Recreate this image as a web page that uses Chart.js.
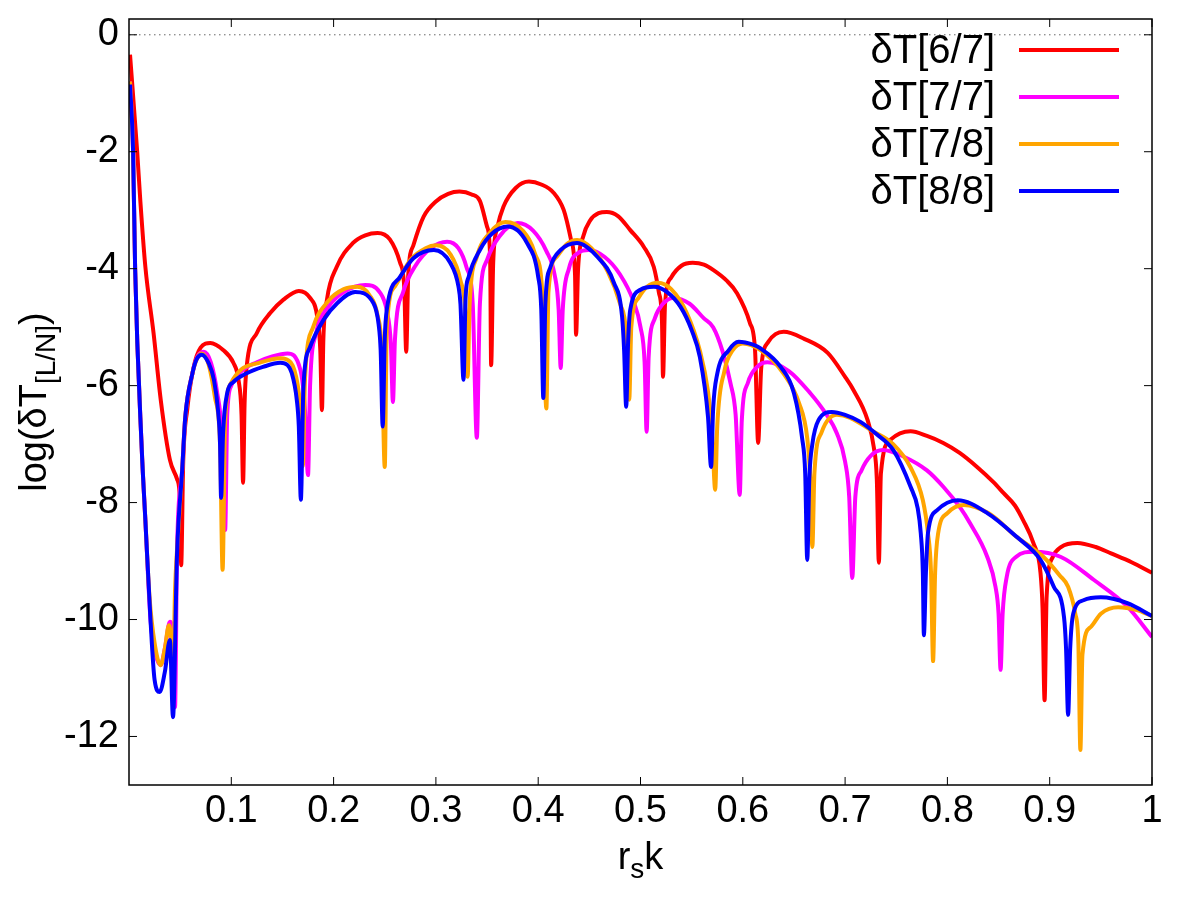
<!DOCTYPE html>
<html>
<head>
  <title>log(dT) vs rs k</title>
  <script src="https://cdn.jsdelivr.net/npm/chart.js"></script>
  <style>body{margin:0;background:#fff}</style>
</head>
<body>
  <canvas id="chart" width="1200" height="900"></canvas>
  <script>
    // axis ticks
    const xTicks = [0.1, 0.2, 0.3, 0.4, 0.5, 0.6, 0.7, 0.8, 0.9, 1];
    const yTicks = [0, -2, -4, -6, -8, -10, -12];

    const names = ['δT[6/7]', 'δT[7/7]', 'δT[7/8]', 'δT[8/8]'];
    const colors = ['#ff0000', '#ff00ff', '#ffa500', '#0000ff'];

    // δT[6/7]
    const k67 = [0.001,0.008,0.011,0.016,0.024,0.031,0.040,0.047,0.050,0.051,
                 0.053,0.057,0.063,0.070,0.0795,0.092,0.102,0.107,0.110,0.1115,
                 0.113,0.115,0.125,0.138,0.151,0.166,0.177,0.184,0.187,0.1886,
                 0.190,0.1935,0.203,0.219,0.231,0.243,0.255,0.265,0.269,0.271,
                 0.273,0.278,0.288,0.300,0.312,0.323,0.335,0.343,0.350,0.353,
                 0.354,0.356,0.360,0.366,0.378,0.391,0.403,0.415,0.425,0.432,
                 0.436,0.437,0.439,0.444,0.451,0.459,0.467,0.478,0.490,0.503,
                 0.513,0.518,0.521,0.522,0.524,0.530,0.540,0.551,0.562,0.571,
                 0.584,0.594,0.607,0.612,0.615,0.618,0.625,0.632,0.640,0.660,
                 0.683,0.700,0.708,0.722,0.728,0.731,0.733,0.735,0.744,0.764,
                 0.780,0.796,0.812,0.829,0.845,0.855,0.866,0.874,0.884,0.891,
                 0.893,0.895,0.897,0.903,0.911,0.927,0.945,0.960,0.980,1.0];
    const t67 = [-0.34,-2.0,-2.82,-3.97,-5.1,-6.24,-7.27,-7.6,-8.0,-9.07,
                 -7.3,-6.4,-5.7,-5.35,-5.27,-5.39,-5.61,-5.9,-6.5,-7.66,
                 -6.3,-5.68,-5.1,-4.76,-4.53,-4.38,-4.5,-4.82,-5.4,-6.42,
                 -5.2,-4.53,-3.97,-3.56,-3.43,-3.39,-3.5,-3.9,-4.3,-5.42,
                 -4.1,-3.6,-3.11,-2.85,-2.72,-2.68,-2.73,-2.84,-3.28,-3.8,
                 -5.65,-3.9,-3.3,-2.94,-2.62,-2.51,-2.56,-2.7,-3.0,-3.5,
                 -4.1,-5.13,-4.0,-3.45,-3.17,-3.05,-3.03,-3.1,-3.34,-3.62,
                 -3.97,-4.41,-4.9,-5.85,-4.6,-4.15,-3.95,-3.9,-3.93,-4.02,
                 -4.2,-4.41,-4.93,-5.4,-6.98,-5.7,-5.25,-5.12,-5.08,-5.2,
                 -5.44,-5.85,-6.07,-6.59,-7.05,-7.6,-9.03,-7.5,-6.93,-6.78,
                 -6.86,-6.98,-7.15,-7.39,-7.65,-7.84,-8.05,-8.3,-8.69,-9.2,
                 -9.8,-11.38,-9.6,-8.93,-8.76,-8.69,-8.76,-8.87,-9.02,-9.2];

    // δT[7/7]
    const k77 = [0.001,0.004,0.006,0.0125,0.016,0.021,0.026,0.031,0.035,0.040,
                 0.043,0.045,0.047,0.052,0.055,0.062,0.067,0.073,0.080,0.086,
                 0.091,0.094,0.096,0.100,0.110,0.125,0.140,0.155,0.1675,0.172,
                 0.175,0.177,0.183,0.195,0.210,0.231,0.245,0.252,0.256,0.258,
                 0.260,0.268,0.280,0.295,0.311,0.322,0.330,0.336,0.340,0.343,
                 0.350,0.362,0.380,0.395,0.408,0.416,0.420,0.422,0.424,0.430,
                 0.440,0.449,0.465,0.480,0.493,0.500,0.504,0.506,0.508,0.514,
                 0.522,0.532,0.548,0.562,0.571,0.580,0.588,0.593,0.597,0.599,
                 0.605,0.614,0.624,0.645,0.666,0.680,0.692,0.700,0.704,0.707,
                 0.710,0.716,0.725,0.737,0.758,0.780,0.796,0.813,0.822,0.839,
                 0.847,0.850,0.852,0.854,0.858,0.867,0.884,0.911,0.943,0.976,
                 1.0];
    const t77 = [-0.8,-2.0,-4.0,-7.1,-8.3,-10.0,-10.6,-10.78,-10.5,-10.04,
                 -10.3,-11.5,-8.8,-7.44,-6.54,-5.79,-5.5,-5.42,-5.6,-6.1,
                 -6.9,-8.47,-6.5,-6.0,-5.75,-5.6,-5.5,-5.45,-5.73,-6.41,
                 -7.53,-6.0,-5.1,-4.65,-4.4,-4.28,-4.4,-4.72,-5.3,-6.28,
                 -5.2,-4.4,-3.95,-3.65,-3.54,-3.65,-3.98,-4.6,-6.89,-4.6,
                 -3.85,-3.45,-3.22,-3.35,-3.7,-4.1,-4.7,-5.7,-4.7,-4.0,
                 -3.72,-3.68,-3.8,-4.1,-4.55,-5.0,-5.6,-6.79,-5.5,-4.85,
                 -4.6,-4.5,-4.6,-4.85,-5.0,-5.4,-5.96,-6.5,-7.87,-6.6,
                 -5.95,-5.68,-5.6,-5.75,-6.13,-6.45,-6.82,-7.3,-7.9,-9.29,
                 -7.9,-7.45,-7.2,-7.1,-7.22,-7.45,-7.73,-8.1,-8.35,-8.93,
                 -9.44,-9.9,-10.86,-9.9,-9.27,-8.93,-8.84,-8.93,-9.32,-9.78,
                 -10.3];

    // δT[7/8]
    const k78 = [0.001,0.004,0.006,0.0125,0.016,0.020,0.025,0.031,0.035,0.039,
                 0.041,0.043,0.045,0.047,0.052,0.055,0.062,0.067,0.071,0.078,
                 0.084,0.089,0.0915,0.094,0.100,0.110,0.125,0.148,0.158,0.165,
                 0.168,0.170,0.172,0.180,0.195,0.210,0.223,0.235,0.243,0.247,
                 0.250,0.252,0.260,0.275,0.290,0.300,0.314,0.324,0.329,0.331,
                 0.333,0.340,0.352,0.368,0.385,0.397,0.404,0.408,0.410,0.418,
                 0.428,0.438,0.452,0.468,0.480,0.486,0.489,0.491,0.498,0.507,
                 0.517,0.530,0.545,0.558,0.566,0.570,0.573,0.575,0.582,0.590,
                 0.600,0.617,0.640,0.655,0.663,0.666,0.668,0.670,0.677,0.692,
                 0.705,0.725,0.747,0.764,0.776,0.781,0.784,0.786,0.788,0.791,
                 0.800,0.816,0.840,0.868,0.894,0.910,0.918,0.925,0.928,0.930,
                 0.932,0.940,0.950,0.967,0.985,1.0];
    const t78 = [-0.8,-2.0,-4.0,-7.1,-8.3,-9.6,-10.4,-10.78,-10.5,-10.1,
                 -10.3,-11.0,-9.5,-8.8,-7.44,-6.54,-5.79,-5.52,-5.45,-5.65,
                 -6.2,-7.0,-9.15,-6.6,-5.95,-5.72,-5.62,-5.53,-5.6,-6.0,
                 -6.5,-7.38,-5.9,-5.0,-4.55,-4.35,-4.31,-4.45,-4.8,-5.4,
                 -7.39,-5.0,-4.3,-3.85,-3.65,-3.6,-3.75,-4.2,-4.8,-5.85,
                 -4.6,-3.8,-3.4,-3.2,-3.35,-3.75,-4.4,-6.39,-4.4,-3.8,
                 -3.58,-3.51,-3.65,-4.05,-4.6,-5.1,-6.24,-5.0,-4.5,-4.3,
                 -4.24,-4.35,-4.75,-5.4,-6.1,-6.8,-7.78,-6.7,-5.75,-5.4,
                 -5.28,-5.39,-5.8,-6.3,-6.9,-7.6,-8.76,-7.5,-6.8,-6.5,
                 -6.55,-6.76,-7.0,-7.4,-7.96,-8.52,-9.2,-10.71,-9.2,-8.52,
                 -8.18,-8.04,-8.18,-8.59,-8.93,-9.25,-9.44,-9.9,-10.4,-12.23,
                 -10.6,-10.13,-9.9,-9.79,-9.84,-9.94];

    // δT[8/8]
    const k88 = [0.001,0.004,0.006,0.0125,0.016,0.021,0.025,0.030,0.035,0.040,
                 0.043,0.047,0.052,0.055,0.062,0.066,0.071,0.078,0.083,0.087,
                 0.089,0.090,0.092,0.096,0.102,0.115,0.131,0.148,0.155,0.159,
                 0.164,0.166,0.168,0.1705,0.177,0.190,0.2035,0.221,0.239,0.244,
                 0.246,0.248,0.250,0.252,0.265,0.278,0.298,0.314,0.322,0.324,
                 0.327,0.329,0.332,0.343,0.355,0.370,0.389,0.400,0.403,0.405,
                 0.407,0.412,0.422,0.438,0.458,0.474,0.482,0.484,0.486,0.488,
                 0.490,0.500,0.513,0.526,0.539,0.550,0.558,0.566,0.569,0.571,
                 0.575,0.586,0.596,0.610,0.617,0.637,0.650,0.658,0.661,0.663,
                 0.665,0.668,0.674,0.687,0.700,0.715,0.730,0.747,0.764,0.771,
                 0.774,0.776,0.777,0.779,0.781,0.790,0.810,0.839,0.868,0.891,
                 0.904,0.914,0.916,0.918,0.920,0.923,0.933,0.950,0.976,1.0];
    const t88 = [-0.85,-2.0,-4.0,-7.1,-8.3,-10.0,-11.03,-11.24,-10.9,-10.35,
                 -11.67,-8.86,-7.44,-6.54,-5.79,-5.55,-5.47,-5.62,-5.9,-6.42,
                 -7.0,-7.92,-6.8,-6.13,-5.94,-5.79,-5.68,-5.61,-5.65,-5.78,
                 -6.24,-6.7,-7.95,-6.02,-5.34,-4.88,-4.59,-4.4,-4.59,-4.95,
                 -5.4,-6.7,-5.2,-4.7,-4.14,-3.82,-3.68,-3.9,-4.3,-4.6,
                 -5.9,-4.5,-4.14,-3.68,-3.4,-3.28,-3.56,-4.14,-4.7,-6.21,
                 -4.6,-3.97,-3.68,-3.56,-3.8,-4.24,-4.82,-5.4,-6.36,-5.2,
                 -4.7,-4.36,-4.31,-4.4,-4.65,-5.05,-5.51,-6.54,-7.39,-6.4,
                 -5.8,-5.4,-5.25,-5.3,-5.36,-5.68,-6.13,-6.9,-7.5,-8.98,
                 -7.6,-7.0,-6.59,-6.45,-6.5,-6.62,-6.82,-7.1,-7.73,-8.1,
                 -8.53,-9.2,-10.27,-9.2,-8.52,-8.13,-7.96,-8.18,-8.59,-8.98,
                 -9.44,-9.96,-10.5,-11.63,-10.5,-9.9,-9.67,-9.62,-9.72,-9.94];

    const xs = [k67, k77, k78, k88];
    const ys = [t67, t77, t78, t88];

    const FONT = '"Liberation Sans", Arial, sans-serif';

    const framePlugin = {
      id: 'frame',
      beforeDatasetsDraw(chart) {
        const { ctx, chartArea: a, scales: { y } } = chart;
        const y0 = y.getPixelForValue(0);
        ctx.save();
        ctx.strokeStyle = '#666';
        ctx.lineWidth = 1;
        ctx.setLineDash([1.5, 3.5]);
        ctx.beginPath();
        ctx.moveTo(a.left, y0);
        ctx.lineTo(a.right, y0);
        ctx.stroke();
        ctx.restore();
      },
      afterDatasetsDraw(chart) {
        const { ctx, chartArea: a, scales: { x, y } } = chart;
        ctx.save();
        // border
        ctx.strokeStyle = '#000';
        ctx.lineWidth = 1.5;
        ctx.strokeRect(a.left, a.top, a.right - a.left, a.bottom - a.top);
        // inward ticks, mirrored
        ctx.lineWidth = 1;
        ctx.beginPath();
        xTicks.forEach(v => {
          const p = x.getPixelForValue(v);
          ctx.moveTo(p, a.bottom); ctx.lineTo(p, a.bottom - 8);
          ctx.moveTo(p, a.top); ctx.lineTo(p, a.top + 8);
        });
        yTicks.forEach(v => {
          const p = y.getPixelForValue(v);
          ctx.moveTo(a.left, p); ctx.lineTo(a.left + 8, p);
          ctx.moveTo(a.right, p); ctx.lineTo(a.right - 8, p);
        });
        ctx.stroke();

        // key, top right inside the plot
        ctx.font = '40px ' + FONT;
        ctx.textAlign = 'right';
        ctx.textBaseline = 'middle';
        names.forEach((n, i) => {
          const ry = a.top + 31 + i * 47;
          ctx.fillStyle = '#000';
          ctx.fillText(n, a.right - 157, ry + 2);
          ctx.strokeStyle = colors[i];
          ctx.lineWidth = 4;
          ctx.beginPath();
          ctx.moveTo(a.right - 133, ry);
          ctx.lineTo(a.right - 33, ry);
          ctx.stroke();
        });

        // axis titles with subscripts
        ctx.fillStyle = '#000';
        ctx.textAlign = 'left';
        ctx.textBaseline = 'alphabetic';
        const big = '38px ' + FONT, small = '28px ' + FONT;
        const parts = (list) => list.map(([t, f, dy]) => { ctx.font = f; return [t, f, dy, ctx.measureText(t).width]; });

        const yt = parts([['log(δT', big, 0], ['[L/N]', small, 9], [')', big, 0]]);
        let w = yt.reduce((s, p) => s + p[3], 0);
        ctx.save();
        ctx.translate(46, (a.top + a.bottom) / 2);
        ctx.rotate(-Math.PI / 2);
        let cx = -w / 2;
        yt.forEach(([t, f, dy, tw]) => { ctx.font = f; ctx.fillText(t, cx, dy); cx += tw; });
        ctx.restore();

        const xt = parts([['r', big, 0], ['s', small, 9], ['k', big, 0]]);
        w = xt.reduce((s, p) => s + p[3], 0);
        cx = (a.left + a.right) / 2 - w / 2;
        xt.forEach(([t, f, dy, tw]) => { ctx.font = f; ctx.fillText(t, cx, 869 + dy); cx += tw; });
        ctx.restore();
      }
    };

    new Chart(document.getElementById('chart'), {
      type: 'scatter',
      data: {
        datasets: names.map((n, i) => ({
          label: n,
          data: xs[i].map((v, j) => ({ x: v, y: ys[i][j] })),
          showLine: true,
          borderColor: colors[i],
          backgroundColor: colors[i],
          borderWidth: 4,
          borderJoinStyle: 'bevel',
          pointRadius: 0,
          cubicInterpolationMode: 'monotone',
          order: 4 - i
        }))
      },
      options: {
        responsive: false,
        animation: false,
        events: [],
        layout: { padding: { top: 19, right: 48, left: 0, bottom: 0 } },
        plugins: { legend: { display: false }, tooltip: { enabled: false } },
        scales: {
          x: {
            type: 'linear',
            min: 0,
            max: 1,
            afterBuildTicks: s => { s.ticks = xTicks.map(v => ({ value: v })); },
            afterFit: s => { s.height = 115; },
            grid: { display: false, drawTicks: false },
            border: { display: false },
            ticks: {
              color: '#000',
              padding: 8,
              maxRotation: 0,
              autoSkip: false,
              font: { family: FONT, size: 38, lineHeight: 1 },
              callback: v => String(v)
            }
          },
          y: {
            type: 'linear',
            min: -12.83,
            max: 0.27,
            afterBuildTicks: s => { s.ticks = yTicks.map(v => ({ value: v })); },
            afterFit: s => { s.width = 129; },
            grid: { display: false, drawTicks: false },
            border: { display: false },
            ticks: {
              color: '#000',
              padding: 10,
              autoSkip: false,
              font: { family: FONT, size: 38, lineHeight: 0.4 },
              callback: v => String(v)
            }
          }
        }
      },
      plugins: [framePlugin]
    });
  </script>
</body>
</html>
